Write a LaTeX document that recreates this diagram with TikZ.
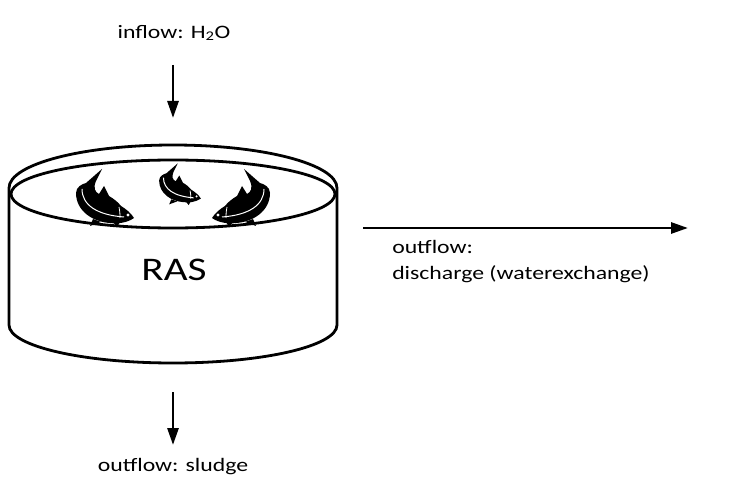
\documentclass[tikz,border=0pt]{standalone}
\usepackage{fontspec}
\setmainfont{Carlito}
\usetikzlibrary{arrows.meta}
\tikzset{
  flow/.style={line width=2.8pt, -{Triangle[length=17pt,width=11pt]}},
  tank/.style={line width=2.8pt},
  lbl/.style={xscale=1.25, inner sep=0pt, font=\fontsize{19}{26}\selectfont},
  fish/.pic={
    \fill[black] (-19,-12) -- (-3,-26) -- (-9,-14)
      .. controls (-12,-7) and (-10,-3) .. (-6,-1)
      -- (-1,-9) -- (4,1)
      .. controls (9,4) and (13,7) .. (16,11)
      .. controls (21,14) and (26,18) .. (29,23)
      .. controls (22,28) and (12,29) .. (5,28)
      .. controls (-12,27) and (-29,16) .. (-29,-2)
      .. controls (-29,-8) and (-23,-11) .. (-19,-12) -- cycle;
    \fill[black] (-12,24) -- (-15,31) -- (-4,27) -- cycle;
    \fill[black] (8,27) -- (12,32) -- (15,27) -- cycle;
    \draw[white, line width=1pt] (-23,-6) .. controls (-23,10) and (-8,20) .. (19,22);
    \draw[white, line width=0.8pt] (14,12) .. controls (15,17) and (15,20) .. (15,23);
    \fill[white] (23,20) circle (1.6);
  }
}
\begin{document}
\begin{tikzpicture}[x=1pt, y=-1pt]
\useasboundingbox (0,0) rectangle (733,502);
% tank
\draw[tank] (9,325) -- (9,188) arc[start angle=180, end angle=360, x radius=164, y radius=43]
  -- (337,325) arc[start angle=0, end angle=180, x radius=164, y radius=38];
\draw[tank] (173,194) ellipse[x radius=162, y radius=34];
% fish
\pic at (105,195) {fish};
\pic[scale=0.72] at (180,182) {fish};
\pic[xscale=-1] at (241,195) {fish};
% labels
\node[lbl, font=\fontsize{33}{36}\selectfont] (ras) at (174,270) {RAS};
\node[lbl] (in) at (174,33) {inflow: H\textsubscript{2}O};
\node[lbl] (sl) at (173,467) {outflow: sludge};
\node[lbl, anchor=north west, align=left] (dis) at (392,240) {outflow:\\discharge (waterexchange)};
% arrows
\coordinate (inA) at (173,65);
\coordinate (inB) at (173,118);
\coordinate (slA) at (173,392);
\coordinate (slB) at (173,445);
\coordinate (dA) at (363,228);
\coordinate (dB) at (688,228);
\draw[flow] (inA) -- (inB);
\draw[flow] (slA) -- (slB);
\draw[flow] (dA) -- (dB);
\end{tikzpicture}
\end{document}
